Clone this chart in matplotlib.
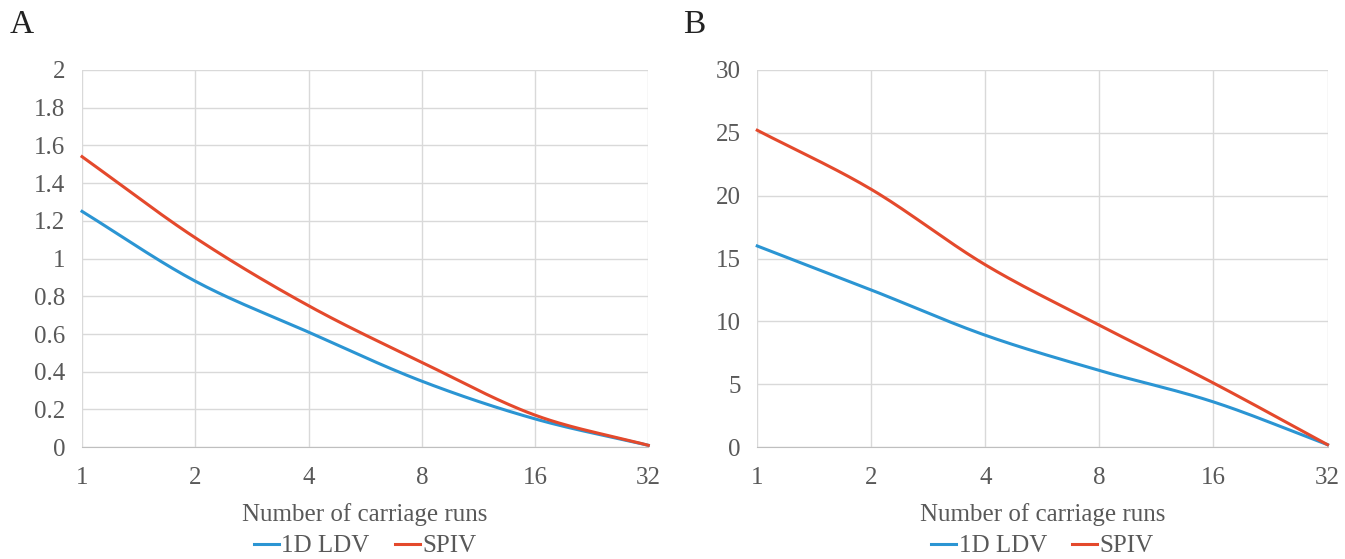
import numpy as np
import matplotlib
matplotlib.use("Agg")
import matplotlib.pyplot as plt
from matplotlib.lines import Line2D

categories = ["1", "2", "4", "8", "16", "32"]
a_ldv = [1.25, 0.88, 0.61, 0.35, 0.15, 0.01]
a_spiv = [1.54, 1.11, 0.75, 0.45, 0.17, 0.01]
b_ldv = [16.0, 12.5, 8.9, 6.1, 3.6, 0.2]
b_spiv = [25.2, 20.5, 14.5, 9.7, 5.1, 0.2]

BLUE = "#2b95d3"
RED = "#e4492c"
GRID = "#d9d9d9"
TXT = "#595959"

plt.rcParams['font.family'] = ['Liberation Serif', 'DejaVu Serif']


def smooth(y, n=30):
    """Catmull-Rom rendering of a line through the data points (Excel-style smoothed line)."""
    x = np.arange(len(y), dtype=float)
    y = np.asarray(y, dtype=float)
    px = np.concatenate([[2 * x[0] - x[1]], x, [2 * x[-1] - x[-2]]])
    py = np.concatenate([[2 * y[0] - y[1]], y, [2 * y[-1] - y[-2]]])
    xs, ys = [], []
    for i in range(1, len(px) - 2):
        t = np.linspace(0, 1, n, endpoint=(i == len(px) - 3))
        for arr, out in ((px, xs), (py, ys)):
            p0, p1, p2, p3 = arr[i - 1], arr[i], arr[i + 1], arr[i + 2]
            out.append(0.5 * ((2 * p1) + (-p0 + p2) * t + (2 * p0 - 5 * p1 + 4 * p2 - p3) * t ** 2
                              + (-p0 + 3 * p1 - 3 * p2 + p3) * t ** 3))
    return np.concatenate(xs), np.concatenate(ys)


fig = plt.figure(figsize=(13.45, 5.59), dpi=100)
axA = fig.add_axes([0.061, 0.200, 0.421, 0.675])
axB = fig.add_axes([0.563, 0.200, 0.424, 0.675])

FS = 18


def style(ax, ymax, ystep, fmt):
    x = np.arange(len(categories))
    ax.set_xlim(0, len(categories) - 1)
    ax.set_ylim(0, ymax)
    ax.set_xticks(x)
    ax.set_xticklabels(categories)
    ticks = np.arange(0, ymax + ystep / 2, ystep)
    ax.set_yticks(ticks)
    ax.set_yticklabels([fmt(t) for t in ticks])
    ax.grid(True, color=GRID, linewidth=1.0)
    ax.set_axisbelow(True)
    for s in ['top', 'right', 'left']:
        ax.spines[s].set_visible(False)
    ax.spines['bottom'].set_color("#bfbfbf")
    ax.tick_params(length=0, labelsize=FS, colors=TXT, pad=14)
    ax.tick_params(axis='y', pad=12)
    ax.set_xlabel("Number of carriage runs", fontsize=FS, color=TXT, labelpad=10)
    h = [Line2D([], [], color=BLUE, lw=2.2), Line2D([], [], color=RED, lw=2.2)]
    ax.legend(h, ["1D LDV", "SPIV"], loc='center', bbox_to_anchor=(0.5, -0.262),
              ncol=2, frameon=False, fontsize=FS, handlelength=1.0, handletextpad=0.1,
              columnspacing=1.0, labelcolor=TXT, borderpad=0)


def fmtA(t):
    t = round(t, 1)
    return f"{t:g}"


def fmtB(t):
    return f"{int(round(t))}"


for ax, ldv, spiv, ymax, step, f in ((axA, a_ldv, a_spiv, 2, 0.2, fmtA), (axB, b_ldv, b_spiv, 30, 5, fmtB)):
    style(ax, ymax, step, f)
    xs, ys = smooth(ldv)
    ax.plot(xs, ys, color=BLUE, lw=2.2, clip_on=False)
    xs, ys = smooth(spiv)
    ax.plot(xs, ys, color=RED, lw=2.2, clip_on=False)

fig.text(0.007, 0.955, "A", fontsize=24, va='center', ha='left', color="#222222")
fig.text(0.508, 0.955, "B", fontsize=24, va='center', ha='left', color="#222222")

fig.savefig("out.png", dpi=100, facecolor="white")
